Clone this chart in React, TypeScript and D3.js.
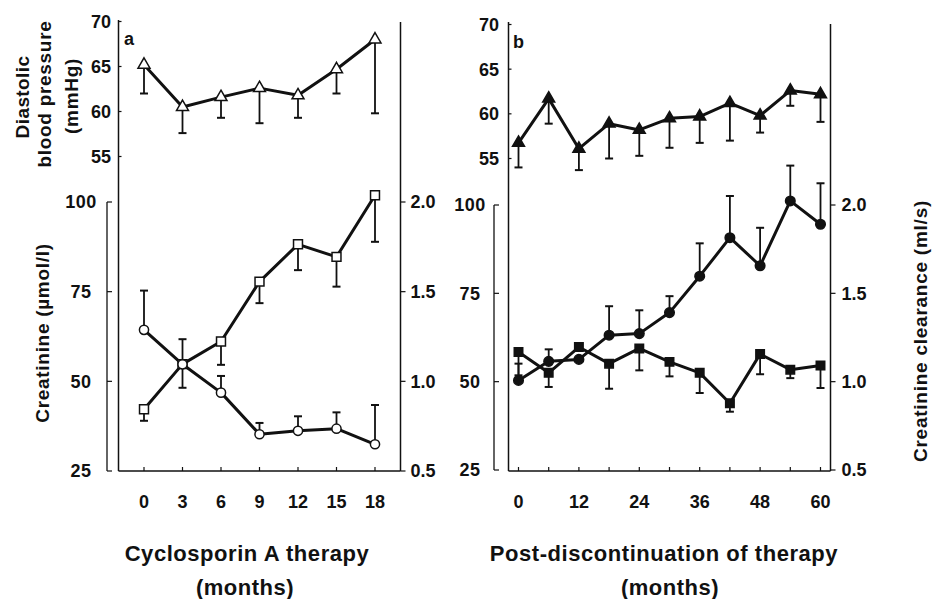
import React from "react";
import * as d3 from "d3";

// ---------- data ----------
const monthsA = [0, 3, 6, 9, 12, 15, 18];
const dbpA = [65.2, 60.5, 61.6, 62.6, 61.8, 64.7, 68.0];
const dbpALow = [62.0, 57.6, 59.3, 58.7, 59.3, 62.0, 59.8];
const creatA = [42.2, 54.8, 61.1, 77.8, 88.2, 84.7, 101.9];
const creatALow = [39.0, 48.2, 54.6, 71.8, 81.0, 76.4, 88.9];
const clearA = [1.287, 1.095, 0.937, 0.705, 0.724, 0.736, 0.649];
const clearAHigh = [1.506, 1.235, 1.03, 0.768, 0.805, 0.827, 0.868];

const monthsB = [0, 6, 12, 18, 24, 30, 36, 42, 48, 54, 60];
const dbpB = [56.75, 61.7, 56.1, 58.9, 58.2, 59.5, 59.7, 61.2, 59.8, 62.6, 62.2];
const dbpBLow = [54.0, 58.9, 53.7, 55.0, 55.3, 56.2, 56.75, 57.0, 57.9, 60.9, 59.1];
const creatB = [58.4, 52.5, 59.8, 55.1, 59.4, 55.6, 52.5, 43.9, 57.8, 53.4, 54.6];
const creatBLow = [51.8, 48.5, 59.8, 48.0, 53.2, 51.5, 46.8, 41.5, 52.1, 51.0, 48.2];
const clearB = [1.007, 1.115, 1.126, 1.263, 1.272, 1.391, 1.597, 1.815, 1.656, 2.023, 1.891];
const clearBHigh = [1.102, 1.183, 1.126, 1.427, 1.404, 1.484, 1.783, 2.051, 1.871, 2.223, 2.123];

const dbpTicks = [70, 65, 60, 55];
const creatTicks = [100, 75, 50, 25];
const clearTicks = ["2.0", "1.5", "1.0", "0.5"];
const xTicksA = [0, 3, 6, 9, 12, 15, 18];
const xLabelsA = [0, 3, 6, 9, 12, 15, 18];
const xTicksB = [0, 6, 12, 18, 24, 30, 36, 42, 48, 54, 60];
const xLabelsB = [0, 12, 24, 36, 48, 60];

const FONT = "'Liberation Sans', Arial, Helvetica, sans-serif";
const INK = "#111";
const TICK_FS = 18;

type PanelProps = {
  letter: string;
  months: number[];
  dbp: number[];
  dbpLow: number[];
  creat: number[];
  creatLow: number[];
  clear: number[];
  clearHigh: number[];
  xTicks: number[];
  xLabels: number[];
  xDomain: [number, number];
  xRange: [number, number];
  topRange: [number, number];
  botRange: [number, number];
  innerX: number;
  outerX: number;
  rightX: number;
  bottomY: number;
  frameTop: number;
  topLabelX: number;
  botLabelX: number;
  rightLabelX: number;
  letterPos: [number, number];
  filled: boolean;
  title: string;
  titleX: number;
  monthsX: number;
};

function Panel(p: PanelProps) {
  const x = d3.scaleLinear().domain(p.xDomain).range(p.xRange);
  const yTop = d3.scaleLinear().domain([55, 70]).range(p.topRange);
  const yCr = d3.scaleLinear().domain([25, 100]).range(p.botRange);
  const yCl = d3.scaleLinear().domain([0.5, 2.0]).range(p.botRange);

  const line = d3.line<[number, number]>().x((d) => d[0]).y((d) => d[1]);
  const tri = d3.symbol().type(d3.symbolTriangle).size(62)()!;
  const sq = d3.symbol().type(d3.symbolSquare).size(p.filled ? 72 : 80)()!;
  const circ = d3.symbol().type(d3.symbolCircle).size(p.filled ? 72 : 66)()!;

  const fill = p.filled ? INK : "#fff";
  const capW = 4;

  const errBar = (xx: number, y0: number, y1: number, key: string) =>
    Math.abs(y1 - y0) < 0.5 ? null : (
      <g key={key}>
        <line x1={xx} x2={xx} y1={y0} y2={y1} stroke={INK} strokeWidth={1.8} />
        <line x1={xx - capW} x2={xx + capW} y1={y1} y2={y1} stroke={INK} strokeWidth={2} />
      </g>
    );

  const dbpPts = p.months.map((m, i) => [x(m), yTop(p.dbp[i])] as [number, number]);
  const crPts = p.months.map((m, i) => [x(m), yCr(p.creat[i])] as [number, number]);
  const clPts = p.months.map((m, i) => [x(m), yCl(p.clear[i])] as [number, number]);

  const txt = { fontFamily: FONT, fontWeight: 700, fill: INK } as const;

  return (
    <g>
      {/* frame */}
      <line x1={p.innerX} x2={p.innerX} y1={p.frameTop} y2={p.bottomY} stroke={INK} strokeWidth={1.5} />
      <line x1={p.rightX} x2={p.rightX} y1={p.frameTop + 2} y2={p.bottomY} stroke={INK} strokeWidth={1.5} />
      <line x1={p.innerX} x2={p.rightX} y1={p.bottomY} y2={p.bottomY} stroke={INK} strokeWidth={1.5} />
      <line x1={p.outerX} x2={p.outerX} y1={yCr(100)} y2={yCr(25)} stroke={INK} strokeWidth={1.3} />
      {/* top (DBP) axis */}
      {dbpTicks.map((t) => (
        <g key={"dt" + t}>
          <line x1={p.innerX} x2={p.innerX + 3} y1={yTop(t)} y2={yTop(t)} stroke={INK} strokeWidth={1.2} />
          <text {...txt} x={p.topLabelX} y={yTop(t)} dy="0.36em" textAnchor="middle" fontSize={TICK_FS}>
            {t}
          </text>
        </g>
      ))}
      {/* creatinine axis */}
      {creatTicks.map((t) => (
        <g key={"ct" + t}>
          <line x1={p.outerX} x2={p.outerX + 5} y1={yCr(t)} y2={yCr(t)} stroke={INK} strokeWidth={1.2} />
          <text {...txt} x={p.botLabelX} y={yCr(t)} dy="0.36em" textAnchor="middle" fontSize={TICK_FS} letterSpacing={0.5}>
            {t}
          </text>
        </g>
      ))}
      {/* clearance axis */}
      {clearTicks.map((t) => (
        <g key={"cl" + t}>
          <line x1={p.rightX} x2={p.rightX + 5} y1={yCl(+t)} y2={yCl(+t)} stroke={INK} strokeWidth={1.2} />
          <text {...txt} x={p.rightLabelX} y={yCl(+t)} dy="0.36em" textAnchor="middle" fontSize={TICK_FS}>
            {t}
          </text>
        </g>
      ))}
      {/* x axis */}
      {p.xTicks.map((t) => (
        <line key={"xt" + t} x1={x(t)} x2={x(t)} y1={p.bottomY} y2={p.bottomY - 4} stroke={INK} strokeWidth={1.2} />
      ))}
      {p.xLabels.map((t) => (
        <text key={"xl" + t} {...txt} x={x(t)} y={p.bottomY + 37} textAnchor="middle" fontSize={TICK_FS}>
          {t}
        </text>
      ))}
      <text {...txt} x={p.letterPos[0]} y={p.letterPos[1]} fontSize={18}>
        {p.letter}
      </text>
      {/* titles */}
      <text {...txt} x={p.titleX} y={561} textAnchor="middle" fontSize={22} letterSpacing={0.55}>
        {p.title}
      </text>
      <text {...txt} x={p.monthsX} y={595} textAnchor="middle" fontSize={22} letterSpacing={0.5}>
        (months)
      </text>

      {/* data lines */}
      <path d={line(dbpPts)!} fill="none" stroke={INK} strokeWidth={3} strokeLinejoin="round" />
      <path d={line(crPts)!} fill="none" stroke={INK} strokeWidth={3} strokeLinejoin="round" />
      <path d={line(clPts)!} fill="none" stroke={INK} strokeWidth={3} strokeLinejoin="round" />

      {/* error bars */}
      {p.months.map((m, i) => errBar(x(m), yTop(p.dbp[i]), yTop(p.dbpLow[i]), "eb" + i))}
      {p.months.map((m, i) => errBar(x(m), yCr(p.creat[i]), yCr(p.creatLow[i]), "ec" + i))}
      {p.months.map((m, i) => errBar(x(m), yCl(p.clear[i]), yCl(p.clearHigh[i]), "el" + i))}

      {/* markers */}
      {dbpPts.map((d, i) => (
        <path key={"mt" + i} d={tri} transform={`translate(${d[0]},${d[1]})`} fill={fill} stroke={INK} strokeWidth={1.5} />
      ))}
      {crPts.map((d, i) => (
        <path key={"ms" + i} d={sq} transform={`translate(${d[0]},${d[1]})`} fill={fill} stroke={INK} strokeWidth={1.5} />
      ))}
      {clPts.map((d, i) => (
        <path key={"mc" + i} d={circ} transform={`translate(${d[0]},${d[1]})`} fill={fill} stroke={INK} strokeWidth={1.5} />
      ))}
    </g>
  );
}

export default function App() {
  const txt = { fontFamily: FONT, fontWeight: 700, fill: INK } as const;
  return (
    <svg
      width={933}
      height={599}
      viewBox="0 0 933 599"
      style={{ position: "absolute", left: 0, top: 0, background: "#fff" }}
    >
      <rect x={0} y={0} width={933} height={599} fill="#fff" />
      {/* left rotated labels */}
      <text {...txt} transform="translate(29,97) rotate(-90)" textAnchor="middle" fontSize={19} letterSpacing={0.4}>
        Diastolic
      </text>
      <text {...txt} transform="translate(51,94) rotate(-90)" textAnchor="middle" fontSize={19} letterSpacing={0.7}>
        blood pressure
      </text>
      <text {...txt} transform="translate(78,96) rotate(-90)" textAnchor="middle" fontSize={19} letterSpacing={0.7}>
        (mmHg)
      </text>
      <text {...txt} transform="translate(49,333) rotate(-90)" textAnchor="middle" fontSize={19} letterSpacing={0.7}>
        Creatinine (µmol/l)
      </text>
      <text {...txt} transform="translate(927,331) rotate(-90)" textAnchor="middle" fontSize={19} letterSpacing={0.75}>
        Creatinine clearance (ml/s)
      </text>

      <Panel
        letter="a"
        months={monthsA}
        dbp={dbpA}
        dbpLow={dbpALow}
        creat={creatA}
        creatLow={creatALow}
        clear={clearA}
        clearHigh={clearAHigh}
        xTicks={xTicksA}
        xLabels={xLabelsA}
        xDomain={[0, 18]}
        xRange={[144, 375]}
        topRange={[156.5, 21.5]}
        botRange={[471, 202]}
        innerX={118.5}
        outerX={107}
        rightX={400.5}
        bottomY={471}
        frameTop={20}
        topLabelX={101}
        botLabelX={81}
        rightLabelX={423}
        letterPos={[124, 45]}
        filled={false}
        title="Cyclosporin A therapy"
        titleX={247}
        monthsX={245}
      />
      <Panel
        letter="b"
        months={monthsB}
        dbp={dbpB}
        dbpLow={dbpBLow}
        creat={creatB}
        creatLow={creatBLow}
        clear={clearB}
        clearHigh={clearBHigh}
        xTicks={xTicksB}
        xLabels={xLabelsB}
        xDomain={[0, 60]}
        xRange={[518.5, 820.5]}
        topRange={[158.5, 24.5]}
        botRange={[470, 205]}
        innerX={508.5}
        outerX={494}
        rightX={830.5}
        bottomY={471}
        frameTop={22}
        topLabelX={489}
        botLabelX={470}
        rightLabelX={854}
        letterPos={[513, 48]}
        filled={true}
        title="Post-discontinuation of therapy"
        titleX={664}
        monthsX={670}
      />
    </svg>
  );
}
